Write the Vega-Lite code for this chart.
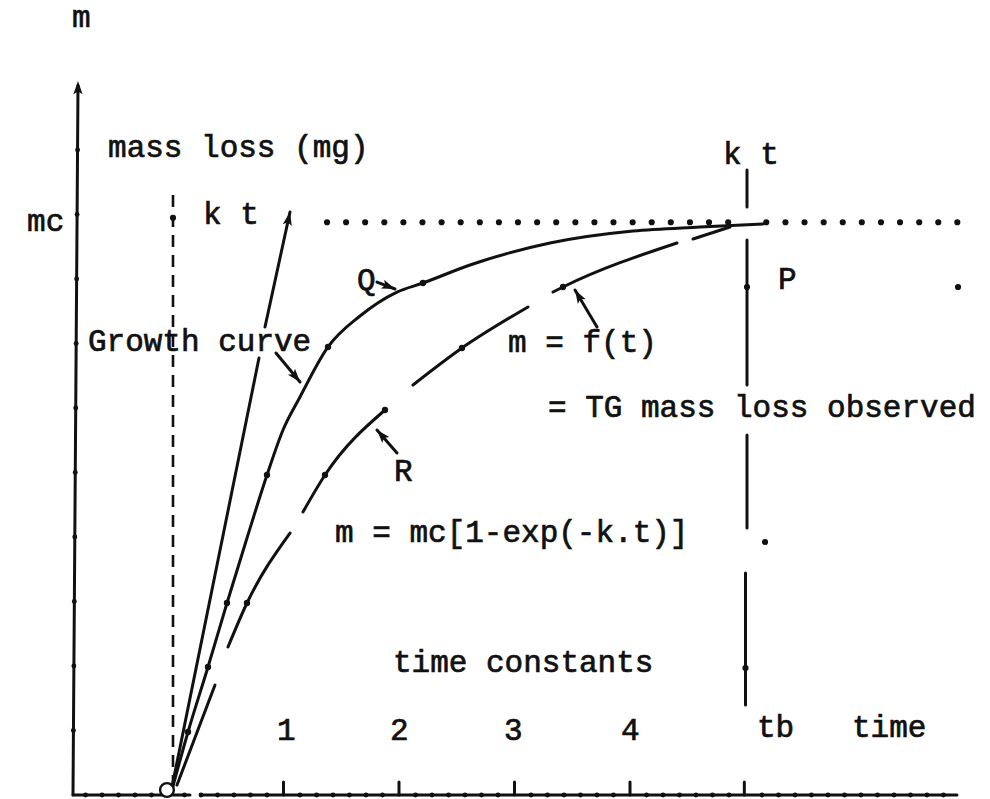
{
  "$schema": "https://vega.github.io/schema/vega-lite/v6.json",
  "description": "Thermogravimetric mass loss m = f(t) compared with the first-order growth curve m = mc[1-exp(-k.t)], time in time constants.",
  "width": 990,
  "height": 799,
  "padding": 0,
  "autosize": {"type": "none"},
  "background": "white",
  "config": {"view": {"stroke": null}},
  "datasets": {
    "strokes": [
      {"path": "y-axis", "i": 0, "t": -0.8225, "m": 0},
      {"path": "y-axis", "i": 1, "t": -0.7792, "m": 11.0},
      {"path": "x-axis-left", "i": 0, "t": -0.8225, "m": 0},
      {"path": "x-axis-left", "i": 1, "t": 0.1905, "m": 0},
      {"path": "x-axis-right", "i": 0, "t": 0.303, "m": 0},
      {"path": "x-axis-right", "i": 1, "t": 6.8312, "m": 0},
      {"path": "tangent-low", "i": 0, "t": 0.0346, "m": 0.124},
      {"path": "tangent-low", "i": 1, "t": 0.7879, "m": 6.775},
      {"path": "tangent-high", "i": 0, "t": 0.8398, "m": 7.256},
      {"path": "tangent-high", "i": 1, "t": 1.0563, "m": 9.039},
      {"path": "tb-1", "i": 0, "t": 5.013, "m": 9.69},
      {"path": "tb-1", "i": 1, "t": 5.013, "m": 9.116},
      {"path": "tb-2", "i": 0, "t": 5.013, "m": 8.605},
      {"path": "tb-2", "i": 1, "t": 5.013, "m": 6.357},
      {"path": "tb-3", "i": 0, "t": 5.013, "m": 5.581},
      {"path": "tb-3", "i": 1, "t": 5.013, "m": 4.14},
      {"path": "tb-4", "i": 0, "t": 5.0, "m": 3.442},
      {"path": "tb-4", "i": 1, "t": 5.0, "m": 1.395},
      {"path": "tick-1", "i": 0, "t": 1, "m": 0},
      {"path": "tick-1", "i": 1, "t": 1, "m": 0.2},
      {"path": "tick-2", "i": 0, "t": 2, "m": 0},
      {"path": "tick-2", "i": 1, "t": 2, "m": 0.2},
      {"path": "tick-3", "i": 0, "t": 3, "m": 0},
      {"path": "tick-3", "i": 1, "t": 3, "m": 0.2},
      {"path": "tick-4", "i": 0, "t": 4, "m": 0},
      {"path": "tick-4", "i": 1, "t": 4, "m": 0.2},
      {"path": "tick-tb", "i": 0, "t": 4.99, "m": 0},
      {"path": "tick-tb", "i": 1, "t": 4.99, "m": 0.2},
      {"path": "arrow-growth", "i": 0, "t": 0.9351, "m": 6.853},
      {"path": "arrow-growth", "i": 1, "t": 1.1429, "m": 6.403},
      {"path": "arrow-Q", "i": 0, "t": 1.8095, "m": 7.953},
      {"path": "arrow-Q", "i": 1, "t": 1.9654, "m": 7.845},
      {"path": "arrow-R", "i": 0, "t": 1.9827, "m": 5.302},
      {"path": "arrow-R", "i": 1, "t": 1.8095, "m": 5.659},
      {"path": "arrow-f", "i": 0, "t": 3.7143, "m": 7.256},
      {"path": "arrow-f", "i": 1, "t": 3.5238, "m": 7.829}
    ],
    "curves": [
      {"path": "growth", "t": 0.0433, "m": 0.1395},
      {"path": "growth", "t": 0.1732, "m": 0.977},
      {"path": "growth", "t": 0.3463, "m": 1.984},
      {"path": "growth", "t": 0.5108, "m": 2.977},
      {"path": "growth", "t": 0.684, "m": 3.984},
      {"path": "growth", "t": 0.8571, "m": 4.961},
      {"path": "growth", "t": 0.9957, "m": 5.659},
      {"path": "growth", "t": 1.1429, "m": 6.171},
      {"path": "growth", "t": 1.3853, "m": 6.946},
      {"path": "growth", "t": 1.6623, "m": 7.426},
      {"path": "growth", "t": 1.9827, "m": 7.798},
      {"path": "growth", "t": 2.2078, "m": 7.938},
      {"path": "growth", "t": 2.6147, "m": 8.217},
      {"path": "growth", "t": 3.3074, "m": 8.558},
      {"path": "growth", "t": 4.026, "m": 8.744},
      {"path": "growth", "t": 4.6061, "m": 8.806},
      {"path": "growth", "t": 5.1515, "m": 8.853},
      {"path": "observed-1", "t": 0.0779, "m": 0.155},
      {"path": "observed-1", "t": 0.4069, "m": 1.705},
      {"path": "observed-2", "t": 0.5195, "m": 2.295},
      {"path": "observed-2", "t": 0.684, "m": 2.977},
      {"path": "observed-2", "t": 1.0563, "m": 4.062},
      {"path": "observed-3", "t": 1.1688, "m": 4.388},
      {"path": "observed-3", "t": 1.3593, "m": 4.961},
      {"path": "observed-3", "t": 1.8788, "m": 5.969},
      {"path": "observed-4", "t": 2.1212, "m": 6.357},
      {"path": "observed-4", "t": 2.5455, "m": 6.93},
      {"path": "observed-4", "t": 3.1169, "m": 7.566},
      {"path": "observed-5", "t": 3.3333, "m": 7.798},
      {"path": "observed-5", "t": 3.4199, "m": 7.876},
      {"path": "observed-5", "t": 4.4069, "m": 8.558},
      {"path": "observed-6", "t": 4.5455, "m": 8.62},
      {"path": "observed-6", "t": 4.8658, "m": 8.806}
    ],
    "start": [
      {"path": "t0", "t": 0.0433, "m": 9.302},
      {"path": "t0", "t": 0.0433, "m": 0.124}
    ],
    "axisDots": [
      {"t": -0.819, "m": 1}, {"t": -0.815, "m": 2}, {"t": -0.811, "m": 3},
      {"t": -0.807, "m": 4}, {"t": -0.803, "m": 5}, {"t": -0.799, "m": 6},
      {"t": -0.795, "m": 7}, {"t": -0.791, "m": 8}, {"t": -0.787, "m": 9},
      {"t": -0.783, "m": 10},
      {"t": -0.714, "m": 0}, {"t": -0.571, "m": 0}, {"t": -0.429, "m": 0},
      {"t": -0.286, "m": 0}, {"t": -0.143, "m": 0}, {"t": 0.143, "m": 0},
      {"t": 0.286, "m": 0}, {"t": 0.429, "m": 0}, {"t": 0.571, "m": 0},
      {"t": 0.714, "m": 0}, {"t": 0.857, "m": 0}, {"t": 1.143, "m": 0},
      {"t": 1.286, "m": 0}, {"t": 1.429, "m": 0}, {"t": 1.571, "m": 0},
      {"t": 1.714, "m": 0}, {"t": 1.857, "m": 0}, {"t": 2.143, "m": 0},
      {"t": 2.286, "m": 0}, {"t": 2.429, "m": 0}, {"t": 2.571, "m": 0},
      {"t": 2.714, "m": 0}, {"t": 2.857, "m": 0}, {"t": 3.143, "m": 0},
      {"t": 3.286, "m": 0}, {"t": 3.429, "m": 0}, {"t": 3.571, "m": 0},
      {"t": 3.714, "m": 0}, {"t": 3.857, "m": 0}, {"t": 4.143, "m": 0},
      {"t": 4.286, "m": 0}, {"t": 4.429, "m": 0}, {"t": 4.571, "m": 0},
      {"t": 4.714, "m": 0}, {"t": 4.857, "m": 0}, {"t": 5.143, "m": 0},
      {"t": 5.286, "m": 0}, {"t": 5.429, "m": 0}, {"t": 5.571, "m": 0},
      {"t": 5.714, "m": 0}, {"t": 5.857, "m": 0}, {"t": 6.0, "m": 0},
      {"t": 6.143, "m": 0}, {"t": 6.286, "m": 0}, {"t": 6.429, "m": 0},
      {"t": 6.571, "m": 0}, {"t": 6.714, "m": 0}
    ],
    "levelDots": [
      {"t": 1.377, "m": 8.88}, {"t": 1.542, "m": 8.88}, {"t": 1.707, "m": 8.88},
      {"t": 1.873, "m": 8.88}, {"t": 2.038, "m": 8.88}, {"t": 2.203, "m": 8.88},
      {"t": 2.369, "m": 8.88}, {"t": 2.534, "m": 8.88}, {"t": 2.7, "m": 8.88},
      {"t": 2.865, "m": 8.88}, {"t": 3.03, "m": 8.88}, {"t": 3.196, "m": 8.88},
      {"t": 3.361, "m": 8.88}, {"t": 3.527, "m": 8.88}, {"t": 3.692, "m": 8.88},
      {"t": 3.857, "m": 8.88}, {"t": 4.023, "m": 8.88}, {"t": 4.188, "m": 8.88},
      {"t": 4.353, "m": 8.88}, {"t": 4.519, "m": 8.88}, {"t": 4.684, "m": 8.88},
      {"t": 4.85, "m": 8.88}, {"t": 5.18, "m": 8.88}, {"t": 5.346, "m": 8.88},
      {"t": 5.511, "m": 8.88}, {"t": 5.677, "m": 8.88}, {"t": 5.842, "m": 8.88},
      {"t": 6.007, "m": 8.88}, {"t": 6.173, "m": 8.88}, {"t": 6.338, "m": 8.88},
      {"t": 6.504, "m": 8.88}, {"t": 6.669, "m": 8.88}, {"t": 6.834, "m": 8.88},
      {"t": 0.0433, "m": 8.95},
      {"t": 6.84, "m": 7.876},
      {"t": 5.169, "m": 3.922},
      {"t": 5.013, "m": 7.876},
      {"t": 5.0, "m": 1.969}
    ],
    "curveDots": [
      {"t": 0.1732, "m": 0.977},
      {"t": 0.3463, "m": 1.984},
      {"t": 0.5108, "m": 2.977},
      {"t": 0.8571, "m": 4.961},
      {"t": 1.3853, "m": 6.946},
      {"t": 2.2078, "m": 7.938},
      {"t": 0.684, "m": 2.977},
      {"t": 1.3593, "m": 4.961},
      {"t": 1.8788, "m": 5.969},
      {"t": 2.5455, "m": 6.93},
      {"t": 3.4199, "m": 7.876}
    ],
    "origin": [{"t": -0.009, "m": 0.078}],
    "arrowHeads": [
      {"t": 1.0563, "m": 9.039, "dir": 11.8},
      {"t": 1.1429, "m": 6.403, "dir": 140.4},
      {"t": 1.9654, "m": 7.845, "dir": 111.3},
      {"t": 1.8095, "m": 5.659, "dir": -41},
      {"t": 3.5238, "m": 7.829, "dir": -30.7},
      {"t": -0.7792, "m": 11.07, "dir": 0}
    ],
    "labels": [
      {"text": "m", "t": -0.831, "m": 12.05},
      {"text": "mass loss (mg)", "t": -0.519, "m": 10.031},
      {"text": "mc", "t": -1.22, "m": 8.884},
      {"text": "k t", "t": 0.303, "m": 8.992},
      {"text": "k t", "t": 4.805, "m": 9.922},
      {"text": "Q", "t": 1.636, "m": 7.969},
      {"text": "Growth curve", "t": -0.693, "m": 7.023},
      {"text": "m = f(t)", "t": 2.944, "m": 7.008},
      {"text": "P", "t": 5.281, "m": 7.984},
      {"text": "= TG mass loss observed", "t": 3.29, "m": 6.0},
      {"text": "R", "t": 1.957, "m": 5.008},
      {"text": "m = mc[1-exp(-k.t)]", "t": 1.446, "m": 4.062},
      {"text": "time constants", "t": 1.948, "m": 2.047},
      {"text": "1", "t": 0.944, "m": 1.0},
      {"text": "2", "t": 1.922, "m": 1.0},
      {"text": "3", "t": 2.909, "m": 1.0},
      {"text": "4", "t": 3.922, "m": 1.0},
      {"text": "tb", "t": 5.099, "m": 1.039},
      {"text": "time", "t": 5.922, "m": 1.039}
    ]
  },
  "encoding": {
    "x": {"field": "t", "type": "quantitative", "axis": null,
          "scale": {"domain": [-1.4545, 7.1169], "nice": false, "zero": false}},
    "y": {"field": "m", "type": "quantitative", "axis": null,
          "scale": {"domain": [-0.062, 12.3256], "nice": false, "zero": false}}
  },
  "layer": [
    {
      "data": {"name": "strokes"},
      "mark": {"type": "line", "color": "#111", "strokeWidth": 3, "strokeCap": "round"},
      "encoding": {
        "detail": {"field": "path"},
        "order": {"field": "i", "type": "quantitative"}
      }
    },
    {
      "data": {"name": "curves"},
      "mark": {"type": "line", "color": "#111", "strokeWidth": 3, "interpolate": "monotone", "strokeCap": "round"},
      "encoding": {"detail": {"field": "path"}}
    },
    {
      "data": {"name": "start"},
      "mark": {"type": "line", "color": "#111", "strokeWidth": 2.6, "strokeDash": [12, 8]},
      "encoding": {"detail": {"field": "path"}}
    },
    {
      "data": {"name": "axisDots"},
      "mark": {"type": "point", "shape": "circle", "filled": true, "color": "#111", "size": 24, "opacity": 1}
    },
    {
      "data": {"name": "levelDots"},
      "mark": {"type": "point", "shape": "circle", "filled": true, "color": "#111", "size": 38, "opacity": 1}
    },
    {
      "data": {"name": "curveDots"},
      "mark": {"type": "point", "shape": "circle", "filled": true, "color": "#111", "size": 40, "opacity": 1}
    },
    {
      "data": {"name": "origin"},
      "mark": {"type": "point", "shape": "circle", "filled": true, "fill": "white", "stroke": "#111", "strokeWidth": 2.4, "size": 190, "opacity": 1}
    },
    {
      "data": {"name": "arrowHeads"},
      "mark": {"type": "point", "shape": "M0,0L0.55,1.6L0,1.25L-0.55,1.6Z", "filled": true, "color": "#111", "size": 280, "opacity": 1},
      "encoding": {"angle": {"field": "dir", "type": "quantitative", "scale": null}}
    },
    {
      "data": {"name": "labels"},
      "mark": {"type": "text", "font": "Liberation Mono", "fontSize": 31, "color": "#111", "stroke": "#111", "strokeWidth": 0.7, "align": "left", "baseline": "middle"},
      "encoding": {"text": {"field": "text"}}
    }
  ]
}
